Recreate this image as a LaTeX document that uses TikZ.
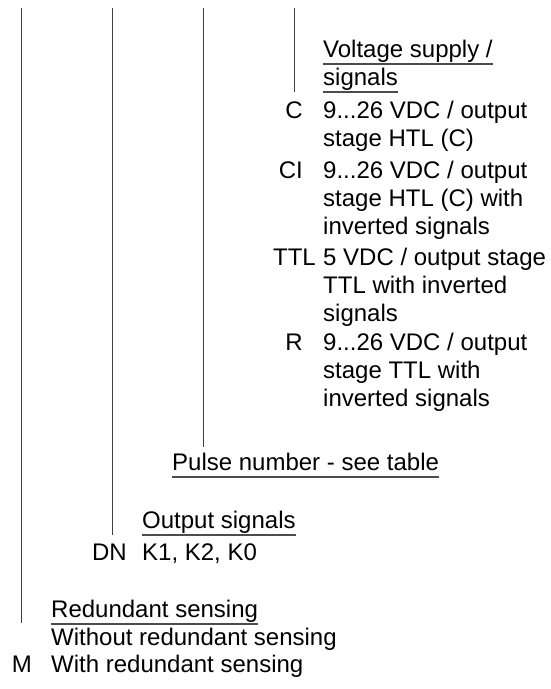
\documentclass[tikz,border=0pt]{standalone}
\usepackage{fontspec}
\setmainfont{Liberation Sans}
\usetikzlibrary{calc}

\tikzset{
  stem/.style={black!75,line width=1pt},
  uline/.style={black!70,line width=1.2pt},
  txt/.style={anchor=base west,inner sep=0pt,align=left,
    font=\fontsize{24}{28}\selectfont},
  code/.style={anchor=base east,inner sep=0pt,
    font=\fontsize{24}{28}\selectfont}
}

\begin{document}
\begin{tikzpicture}[x=1pt,y=-1pt]
    \useasboundingbox (0,0) rectangle (550,689);

    \begin{scope}
      \node[txt] (volt) at (323,57) {Voltage supply /};
      \node[txt] (sig) at (323,85) {signals};

      \node[code] (cC) at (303,118) {C};
      \node[txt] (tC) at (323,146) {9...26 VDC / output\\stage HTL (C)};

      \node[code] (cCI) at (303,178) {CI};
      \node[txt] (tCI) at (323,234) {9...26 VDC / output\\stage HTL (C) with\\inverted signals};

      \node[code] (cTTL) at (316,265) {TTL};
      \node[txt] (tTTL) at (323,321) {5 VDC / output stage\\TTL with inverted\\signals};

      \node[code] (cR) at (303,350) {R};
      \node[txt] (tR) at (323,406) {9...26 VDC / output\\stage TTL with\\inverted signals};
    \end{scope}

    \begin{scope}
      \node[txt] (pulse) at (172,470) {Pulse number - see table};

      \node[txt] (out) at (142,528) {Output signals};
      \node[code] (cDN) at (127,560) {DN};
      \node[txt] (tDN) at (142,560) {K1, K2, K0};

      \node[txt] (red) at (51,617) {Redundant sensing};
      \node[txt] (tnone) at (51,645) {Without redundant sensing};
      \node[code] (cM) at (32,672) {M};
      \node[txt] (tM) at (51,672) {With redundant sensing};
    \end{scope}

    \foreach \n in {volt,sig,pulse,out,red}
      \draw[uline] ([yshift=-7pt]\n.base west) -- ([yshift=-7pt]\n.base east);

    \coordinate (s1) at (21,8);
    \coordinate (s2) at (112,8);
    \coordinate (s3) at (203,8);
    \coordinate (s4) at (294,8);

    \draw[stem] (s1) -- ($(s1 |- red.base)+(0,6)$);
    \draw[stem] (s2) -- ($(s2 |- out.base)+(0,7)$);
    \draw[stem] (s3) -- ($(s3 |- pulse.base)+(0,-23)$);
    \draw[stem] (s4) -- ($(s4 |- sig.base)+(0,7)$);
  \end{tikzpicture}
\end{document}
